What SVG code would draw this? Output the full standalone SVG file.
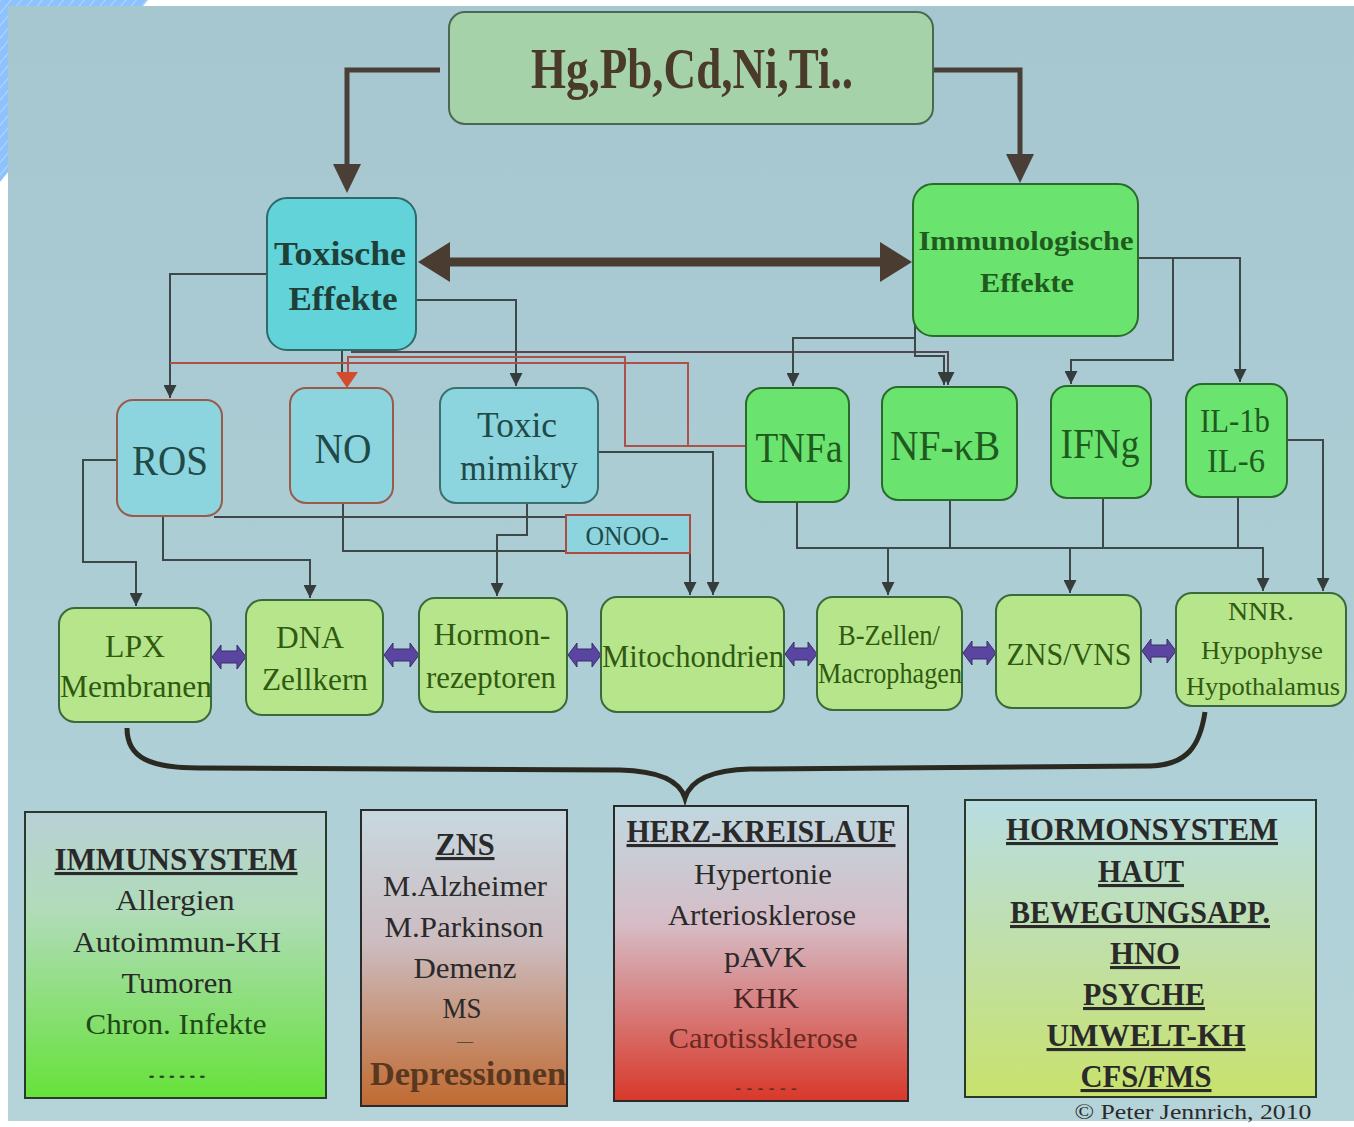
<svg xmlns="http://www.w3.org/2000/svg" width="1354" height="1127" viewBox="0 0 1354 1127">
<style>
text{font-family:"Liberation Serif","Times New Roman",serif;text-anchor:middle}
.b{font-weight:bold}
.u{text-decoration:underline}
.c{fill:none;stroke:#3d4848;stroke-width:2}
.r{fill:none;stroke:#b0504a;stroke-width:2}
.t2{fill:#1f4a48}
.tg{fill:#1f5a1f}
.t3{fill:#2f5a10}
.tk{fill:#2a2a2a}
.lv2c{fill:#8dd5de;stroke:#3a7070;stroke-width:2}
.lv2r{fill:#8dd5de;stroke:#9a5a4a;stroke-width:2}
.lv2g{fill:#6be36f;stroke:#2a6a2a;stroke-width:2}
.lv3{fill:#b7e58c;stroke:#3a6a3a;stroke-width:2}
.pa{fill:#5a46a0;stroke:#3a2a6a;stroke-width:1}
</style>
<defs>
<marker id="arr" viewBox="0 0 10 10" refX="10" refY="5" markerWidth="13" markerHeight="13" markerUnits="userSpaceOnUse" orient="auto">
<path d="M0,0 L10,5 L0,10 z" fill="#353c3c"/>
</marker>
<pattern id="hatch" width="8" height="8" patternUnits="userSpaceOnUse" patternTransform="rotate(40)">
<rect width="8" height="8" fill="#8ec2fc"/>
<line x1="0" y1="0" x2="0" y2="8" stroke="#d8ecff" stroke-width="1"/>
</pattern>
<linearGradient id="bg" x1="0" y1="0" x2="0" y2="1">
<stop offset="0" stop-color="#a6c6d0"/>
<stop offset="1" stop-color="#b4d4da"/>
</linearGradient>
<linearGradient id="gImm" x1="0" y1="0" x2="0" y2="1">
<stop offset="0" stop-color="#b8d0d6"/>
<stop offset="0.35" stop-color="#b0dcb8"/>
<stop offset="1" stop-color="#66e23a"/>
</linearGradient>
<linearGradient id="gZns" x1="0" y1="0" x2="0" y2="1">
<stop offset="0" stop-color="#c8d8e0"/>
<stop offset="0.45" stop-color="#ccbcc0"/>
<stop offset="1" stop-color="#c06a30"/>
</linearGradient>
<linearGradient id="gHerz" x1="0" y1="0" x2="0" y2="1">
<stop offset="0" stop-color="#c0d8e0"/>
<stop offset="0.4" stop-color="#d6bcc6"/>
<stop offset="1" stop-color="#d8382a"/>
</linearGradient>
<linearGradient id="gHorm" x1="0" y1="0" x2="0" y2="1">
<stop offset="0" stop-color="#b8dde3"/>
<stop offset="1" stop-color="#c8e26c"/>
</linearGradient>
</defs>

<rect width="1354" height="1127" fill="#ffffff"/>
<polygon points="0,0 148,0 0,182" fill="url(#hatch)"/>
<rect x="8" y="6" width="1346" height="1115" fill="url(#bg)"/>

<g id="connectors">
<path d="M440,70 H347 V166" fill="none" stroke="#4a3f36" stroke-width="5"/>
<polygon points="333,164 361,164 347,193" fill="#4a3f36"/>
<path d="M933,70 H1020 V156" fill="none" stroke="#4a3f36" stroke-width="5"/>
<polygon points="1006,154 1034,154 1020,183" fill="#4a3f36"/>
<line x1="444" y1="262" x2="886" y2="262" stroke="#4a3c30" stroke-width="9"/>
<polygon points="418,262 450,242 450,282" fill="#4a3c30"/>
<polygon points="912,262 880,242 880,282" fill="#4a3c30"/>

<path class="c" d="M267,274 H170 V398" marker-end="url(#arr)"/>
<path class="c" d="M416,300 H516 V386" marker-end="url(#arr)"/>
<path class="c" d="M342,350 V376"/>
<path d="M352,350 V352 H948 V385" fill="none" stroke="#5a4650" stroke-width="2" marker-end="url(#arr)"/>
<path class="r" d="M746,446 H625 V357 H348 V376"/>
<path class="r" d="M688,446 V363 H170"/>
<polygon points="336,372 358,372 347,388" fill="#d44a2e"/>
<path class="c" d="M915,322 V338 H793 V386" marker-end="url(#arr)"/>
<path class="c" d="M915,338 V356 H944 V385" marker-end="url(#arr)"/>
<path class="c" d="M1138,258 H1173 V360 H1071 V384" marker-end="url(#arr)"/>
<path class="c" d="M1138,258 H1240 V382" marker-end="url(#arr)"/>

<path class="c" d="M117,460 H83 V562 H136 V606" marker-end="url(#arr)"/>
<path class="c" d="M163,516 V560 H310 V598" marker-end="url(#arr)"/>
<path class="c" d="M214,517 H566"/>
<path class="c" d="M343,503 V551 H566"/>
<path class="c" d="M527,503 V535 H497 V596" marker-end="url(#arr)"/>
<path class="c" d="M690,553 V595" marker-end="url(#arr)"/>
<path class="c" d="M598,452 H713 V595" marker-end="url(#arr)"/>
<path class="c" d="M797,502 V548 H1263 V591" marker-end="url(#arr)"/>
<path class="c" d="M888,548 V595" marker-end="url(#arr)"/>
<path class="c" d="M1070,548 V593" marker-end="url(#arr)"/>
<path class="c" d="M950,500 V548 M1103,498 V548 M1238,497 V548"/>
<path class="c" d="M1287,440 H1323 V591" marker-end="url(#arr)"/>

<polygon class="pa" points="212,657 221,645 221,651 237,651 237,645 246,657 237,669 237,663 221,663 221,669"/>
<polygon class="pa" points="384,655 393,643 393,649 410,649 410,643 419,655 410,667 410,661 393,661 393,667"/>
<polygon class="pa" points="568,655 577,643 577,649 592,649 592,643 601,655 592,667 592,661 577,661 577,667"/>
<polygon class="pa" points="785,654 794,642 794,648 808,648 808,642 817,654 808,666 808,660 794,660 794,666"/>
<polygon class="pa" points="963,653 972,641 972,647 987,647 987,641 996,653 987,665 987,659 972,659 972,665"/>
<polygon class="pa" points="1142,651 1151,639 1151,645 1167,645 1167,639 1176,651 1167,663 1167,657 1151,657 1151,663"/>

<path d="M127,728 C127,758 150,768 200,768 L620,770 C662,771 680,782 685,798 C690,782 708,770 750,769 L1150,766 C1188,765 1200,745 1205,712" fill="none" stroke="#2a2a22" stroke-width="5"/>
</g>

<g id="n-metals">
<rect x="449" y="12" width="484" height="112" rx="16" fill="#a6d2aa" stroke="#4a6a50" stroke-width="2"/>
<text x="692" y="88" class="b" font-size="56" fill="#4a3a2a" textLength="322" lengthAdjust="spacingAndGlyphs">Hg,Pb,Cd,Ni,Ti..</text>
</g>
<g id="n-toxische">
<rect x="267" y="198" width="149" height="152" rx="20" fill="#62d3d9" stroke="#2d6a6a" stroke-width="2"/>
<text x="340" y="265" class="b" font-size="33" fill="#1f4038" textLength="132" lengthAdjust="spacingAndGlyphs">Toxische</text>
<text x="343" y="310" class="b" font-size="33" fill="#1f4038" textLength="109" lengthAdjust="spacingAndGlyphs">Effekte</text>
</g>
<g id="n-immuno">
<rect x="913" y="184" width="225" height="152" rx="20" fill="#6be36f" stroke="#2a6a2a" stroke-width="2"/>
<text x="1026" y="250" class="b" font-size="28" fill="#1f5a1f" textLength="215" lengthAdjust="spacingAndGlyphs">Immunologische</text>
<text x="1027" y="292" class="b" font-size="28" fill="#1f5a1f" textLength="94" lengthAdjust="spacingAndGlyphs">Effekte</text>
</g>

<g id="n-ros"><rect class="lv2r" x="117" y="400" width="105" height="116" rx="16"/>
<text class="t2" x="170" y="475" font-size="42" textLength="76" lengthAdjust="spacingAndGlyphs">ROS</text></g>
<g id="n-no"><rect class="lv2r" x="290" y="388" width="103" height="115" rx="16"/>
<text class="t2" x="343" y="463" font-size="42" textLength="57" lengthAdjust="spacingAndGlyphs">NO</text></g>
<g id="n-mimikry"><rect class="lv2c" x="440" y="388" width="158" height="115" rx="16"/>
<text class="t2" x="517" y="437" font-size="35" textLength="80" lengthAdjust="spacingAndGlyphs">Toxic</text>
<text class="t2" x="519" y="480" font-size="35" textLength="118" lengthAdjust="spacingAndGlyphs">mimikry</text></g>
<g id="n-tnfa"><rect class="lv2g" x="746" y="388" width="103" height="114" rx="16"/>
<text class="tg" x="799" y="462" font-size="42" textLength="87" lengthAdjust="spacingAndGlyphs">TNFa</text></g>
<g id="n-nfkb"><rect class="lv2g" x="882" y="387" width="135" height="113" rx="16"/>
<text class="tg" x="945" y="460" font-size="42" textLength="110" lengthAdjust="spacingAndGlyphs">NF-κB</text></g>
<g id="n-ifng"><rect class="lv2g" x="1051" y="386" width="100" height="112" rx="16"/>
<text class="tg" x="1100" y="458" font-size="42" textLength="79" lengthAdjust="spacingAndGlyphs">IFNg</text></g>
<g id="n-il"><rect class="lv2g" x="1186" y="384" width="101" height="113" rx="16"/>
<text class="tg" x="1235" y="432" font-size="33" textLength="70" lengthAdjust="spacingAndGlyphs">IL-1b</text>
<text class="tg" x="1236" y="472" font-size="33" textLength="58" lengthAdjust="spacingAndGlyphs">IL-6</text></g>

<g id="n-onoo"><rect x="566" y="515" width="124" height="38" fill="#8dd5de" stroke="#b04a40" stroke-width="2"/>
<text class="t2" x="627" y="545" font-size="27" textLength="83" lengthAdjust="spacingAndGlyphs">ONOO-</text></g>

<g id="n-lpx"><rect class="lv3" x="59" y="608" width="152" height="114" rx="16"/>
<text class="t3" x="135" y="657" font-size="32" textLength="60" lengthAdjust="spacingAndGlyphs">LPX</text>
<text class="t3" x="136" y="697" font-size="32" textLength="152" lengthAdjust="spacingAndGlyphs">Membranen</text></g>
<g id="n-dna"><rect class="lv3" x="246" y="600" width="137" height="115" rx="16"/>
<text class="t3" x="310" y="648" font-size="32" textLength="68" lengthAdjust="spacingAndGlyphs">DNA</text>
<text class="t3" x="315" y="690" font-size="32" textLength="106" lengthAdjust="spacingAndGlyphs">Zellkern</text></g>
<g id="n-hormon"><rect class="lv3" x="419" y="598" width="148" height="114" rx="16"/>
<text class="t3" x="492" y="645" font-size="32" textLength="117" lengthAdjust="spacingAndGlyphs">Hormon-</text>
<text class="t3" x="491" y="688" font-size="32" textLength="130" lengthAdjust="spacingAndGlyphs">rezeptoren</text></g>
<g id="n-mito"><rect class="lv3" x="601" y="597" width="183" height="115" rx="16"/>
<text class="t3" x="693" y="667" font-size="32" textLength="182" lengthAdjust="spacingAndGlyphs">Mitochondrien</text></g>
<g id="n-bzellen"><rect class="lv3" x="817" y="597" width="145" height="113" rx="16"/>
<text class="t3" x="889" y="645" font-size="29" textLength="102" lengthAdjust="spacingAndGlyphs">B-Zellen/</text>
<text class="t3" x="890" y="683" font-size="29" textLength="144" lengthAdjust="spacingAndGlyphs">Macrophagen</text></g>
<g id="n-znsvns"><rect class="lv3" x="996" y="595" width="145" height="113" rx="16"/>
<text class="t3" x="1069" y="665" font-size="32" textLength="125" lengthAdjust="spacingAndGlyphs">ZNS/VNS</text></g>
<g id="n-nnr"><rect class="lv3" x="1176" y="593" width="170" height="113" rx="16"/>
<text class="t3" x="1261" y="620" font-size="26" textLength="66" lengthAdjust="spacingAndGlyphs">NNR.</text>
<text class="t3" x="1262" y="659" font-size="26" textLength="122" lengthAdjust="spacingAndGlyphs">Hypophyse</text>
<text class="t3" x="1263" y="695" font-size="26" textLength="154" lengthAdjust="spacingAndGlyphs">Hypothalamus</text></g>

<g id="n-immunsystem">
<rect x="25" y="812" width="301" height="286" fill="url(#gImm)" stroke="#2a3a2a" stroke-width="2"/>
<text class="tk b u" x="176" y="870" font-size="31" textLength="243" lengthAdjust="spacingAndGlyphs">IMMUNSYSTEM</text>
<text class="tk" x="175" y="910" font-size="30" textLength="119" lengthAdjust="spacingAndGlyphs">Allergien</text>
<text class="tk" x="177" y="952" font-size="30" textLength="208" lengthAdjust="spacingAndGlyphs">Autoimmun-KH</text>
<text class="tk" x="177" y="993" font-size="30" textLength="111" lengthAdjust="spacingAndGlyphs">Tumoren</text>
<text x="176" y="1034" font-size="30" fill="#1f4a18" textLength="181" lengthAdjust="spacingAndGlyphs">Chron. Infekte</text>
<text x="177" y="1078" font-size="22" fill="#2a4a20" textLength="61" lengthAdjust="spacingAndGlyphs">......</text>
</g>
<g id="n-zns">
<rect x="361" y="810" width="206" height="296" fill="url(#gZns)" stroke="#2a2a2a" stroke-width="2"/>
<text class="tk b u" x="465" y="855" font-size="31" textLength="59" lengthAdjust="spacingAndGlyphs">ZNS</text>
<text class="tk" x="465" y="896" font-size="30" textLength="164" lengthAdjust="spacingAndGlyphs">M.Alzheimer</text>
<text class="tk" x="464" y="937" font-size="30" textLength="159" lengthAdjust="spacingAndGlyphs">M.Parkinson</text>
<text class="tk" x="465" y="978" font-size="30" textLength="103" lengthAdjust="spacingAndGlyphs">Demenz</text>
<text class="tk" x="462" y="1018" font-size="30" textLength="39" lengthAdjust="spacingAndGlyphs">MS</text>
<text x="465" y="1046" font-size="16" fill="#5a4a3a">—</text>
<text class="b" x="468" y="1085" font-size="34" fill="#5a3820" textLength="196" lengthAdjust="spacingAndGlyphs">Depressionen</text>
</g>
<g id="n-herz">
<rect x="614" y="806" width="294" height="295" fill="url(#gHerz)" stroke="#2a2a2a" stroke-width="2"/>
<text class="tk b u" x="761" y="842" font-size="31" textLength="269" lengthAdjust="spacingAndGlyphs">HERZ-KREISLAUF</text>
<text class="tk" x="763" y="884" font-size="30" textLength="138" lengthAdjust="spacingAndGlyphs">Hypertonie</text>
<text class="tk" x="762" y="925" font-size="30" textLength="188" lengthAdjust="spacingAndGlyphs">Arteriosklerose</text>
<text class="tk" x="765" y="967" font-size="30" fill="#3a2a2a" textLength="82" lengthAdjust="spacingAndGlyphs">pAVK</text>
<text x="766" y="1008" font-size="30" fill="#4a2424" textLength="66" lengthAdjust="spacingAndGlyphs">KHK</text>
<text x="763" y="1048" font-size="30" fill="#6a2a22" textLength="189" lengthAdjust="spacingAndGlyphs">Carotissklerose</text>
<text x="766" y="1090" font-size="14" fill="#6a2a22" textLength="67" lengthAdjust="spacingAndGlyphs">......</text>
</g>
<g id="n-hormonsystem">
<rect x="965" y="800" width="351" height="297" fill="url(#gHorm)" stroke="#2a3a2a" stroke-width="2"/>
<text class="tk b u" x="1142" y="840" font-size="31" textLength="272" lengthAdjust="spacingAndGlyphs">HORMONSYSTEM</text>
<text class="tk b u" x="1141" y="882" font-size="31" textLength="86" lengthAdjust="spacingAndGlyphs">HAUT</text>
<text class="tk b u" x="1140" y="923" font-size="31" textLength="260" lengthAdjust="spacingAndGlyphs">BEWEGUNGSAPP.</text>
<text class="tk b u" x="1145" y="964" font-size="31" textLength="70" lengthAdjust="spacingAndGlyphs">HNO</text>
<text class="tk b u" x="1144" y="1005" font-size="31" textLength="122" lengthAdjust="spacingAndGlyphs">PSYCHE</text>
<text class="tk b u" x="1146" y="1046" font-size="31" textLength="199" lengthAdjust="spacingAndGlyphs">UMWELT-KH</text>
<text class="tk b u" x="1146" y="1087" font-size="31" textLength="131" lengthAdjust="spacingAndGlyphs">CFS/FMS</text>
</g>
<g id="copyright">
<text x="1193" y="1119" font-size="21" fill="#2a2a2a" textLength="237" lengthAdjust="spacingAndGlyphs">© Peter Jennrich, 2010</text>
</g>
</svg>
